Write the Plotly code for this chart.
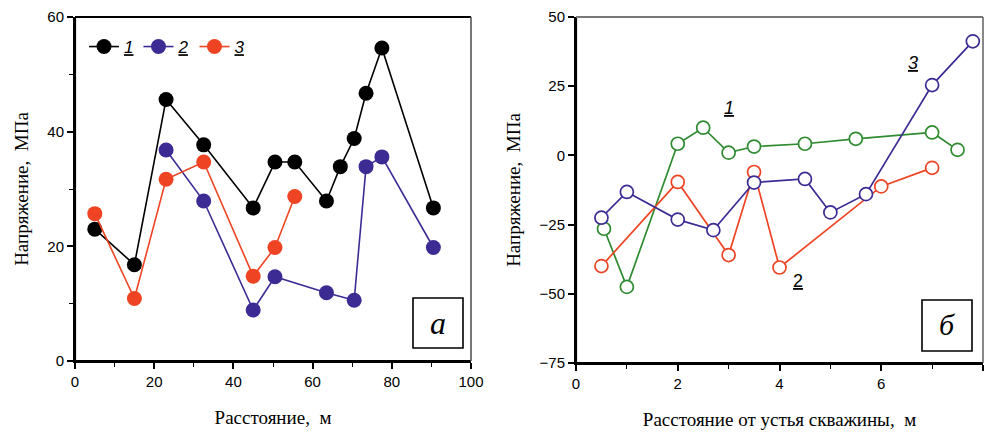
import plotly.graph_objects as go

# ---- left panel (а) ----
a_x1 = [5, 15, 23, 32.5, 45, 50.5, 55.5, 63.5, 67, 70.5, 73.5, 77.5, 90.5]
a_y1 = [23, 16.8, 45.6, 37.7, 26.7, 34.7, 34.7, 27.9, 33.9, 38.8, 46.7, 54.6, 26.7]
a_x2 = [23, 32.5, 45, 50.5, 63.5, 70.5, 73.5, 77.5, 90.5]
a_y2 = [36.8, 27.9, 8.9, 14.7, 11.9, 10.6, 33.9, 35.6, 19.8]
a_x3 = [5, 15, 23, 32.5, 45, 50.5, 55.5]
a_y3 = [25.7, 10.9, 31.7, 34.7, 14.8, 19.8, 28.7]

# ---- right panel (б) ----
b_x1 = [0.55, 1.0, 2.0, 2.5, 3.0, 3.5, 4.5, 5.5, 7.0, 7.5]
b_y1 = [-26.5, -47.5, 4.2, 10.0, 1.0, 3.2, 4.2, 6.0, 8.3, 2.0]
b_x2 = [0.5, 2.0, 3.0, 3.5, 4.0, 6.0, 7.0]
b_y2 = [-40, -9.6, -36, -6.0, -40.5, -11.2, -4.5]
b_x3 = [0.5, 1.0, 2.0, 2.7, 3.5, 4.5, 5.0, 5.7, 7.0, 7.8]
b_y3 = [-22.5, -13.2, -23.2, -27.0, -9.8, -8.5, -20.6, -14.0, 25.4, 41.2]

BLACK = "#000000"
BLUE = "#3d2b94"
RED = "#ee4423"
GREEN = "#2e8b30"

W, H = 985, 435
A_L, A_R, A_T, A_B = 75, 471, 17, 361
B_L, B_R, B_T, B_B = 576, 983, 17, 363

fig = go.Figure()

for xs, ys, col, name in [(a_x1, a_y1, BLACK, "1"), (a_x2, a_y2, BLUE, "2"), (a_x3, a_y3, RED, "3")]:
    fig.add_trace(go.Scatter(
        x=xs, y=ys, mode="lines+markers", name=f"<i><u>{name}</u></i>",
        line=dict(color=col, width=1.6),
        marker=dict(color=col, size=15, symbol="circle"),
        xaxis="x", yaxis="y", showlegend=True, cliponaxis=False))

for xs, ys, col in [(b_x1, b_y1, GREEN), (b_x2, b_y2, RED), (b_x3, b_y3, BLUE)]:
    fig.add_trace(go.Scatter(
        x=xs, y=ys, mode="lines+markers",
        line=dict(color=col, width=1.7),
        marker=dict(color="white", size=13, symbol="circle", line=dict(color=col, width=1.7)),
        xaxis="x2", yaxis="y2", showlegend=False, cliponaxis=False))

tickfont = dict(family="Liberation Sans, Arial", size=15, color="black")
titlefont = dict(family="Liberation Serif, Times New Roman", size=19, color="black")

axis_common = dict(showline=True, linecolor="black", linewidth=2, ticks="outside",
                   ticklen=6, tickwidth=1.5, tickcolor="black", showgrid=False,
                   zeroline=False, tickfont=tickfont, title_font=titlefont,
                   automargin=False)

fig.update_layout(
    width=W, height=H,
    margin=dict(l=0, r=0, t=0, b=0, autoexpand=False),
    paper_bgcolor="white", plot_bgcolor="white",
    xaxis=dict(domain=[A_L/W, A_R/W], range=[0, 100], dtick=20, anchor="y",
               minor=dict(dtick=10, ticks="outside", ticklen=4, tickcolor="black", tickwidth=1.2),
               title=dict(text="Расстояние,  м", standoff=22), **axis_common),
    yaxis=dict(domain=[1-A_B/H, 1-A_T/H], range=[0, 60], dtick=20, anchor="x",
               minor=dict(dtick=10, ticks="outside", ticklen=4, tickcolor="black", tickwidth=1.2),
               title=dict(text="Напряжение,  МПа", standoff=14), **axis_common),
    xaxis2=dict(domain=[B_L/W, B_R/W], range=[0, 8], dtick=2, anchor="y2",
                minor=dict(dtick=1, ticks="outside", ticklen=4, tickcolor="black", tickwidth=1.2),
                title=dict(text="Расстояние от устья скважины,  м", standoff=22), **axis_common),
    yaxis2=dict(domain=[1-B_B/H, 1-B_T/H], range=[-75, 50], dtick=25, anchor="x2",
                title=dict(text="Напряжение,  МПа", standoff=14), **axis_common),
    legend=dict(orientation="h", x=84/W, y=1-29/H, xanchor="left", yanchor="top",
                font=dict(family="Liberation Sans, Arial", size=17, color="black"),
                bgcolor="rgba(0,0,0,0)", itemwidth=30, tracegroupgap=0),
    showlegend=True,
)

def pline(x0, y0, x1, y1, color, width):
    return dict(type="line", xref="paper", yref="paper",
                x0=x0/W, x1=x1/W, y0=1-y0/H, y1=1-y1/H,
                line=dict(color=color, width=width), layer="above")

shapes = [
    # axis lines (left, bottom)
    pline(A_L, A_T, A_L, A_B + 1, "black", 2.2),
    pline(A_L - 1, A_B, A_R, A_B, "black", 2.2),
    pline(B_L, B_T, B_L, B_B + 1, "black", 2.2),
    pline(B_L - 1, B_B, B_R, B_B, "black", 2.2),
    # frame top/right
    pline(A_L, A_T, A_R, A_T, "black", 1.8),
    pline(A_R, A_T, A_R, A_B, "#555555", 1.6),
    pline(B_L, B_T, B_R, B_T, "#777777", 1.8),
    pline(B_R, B_T, B_R, B_B, "#555555", 1.4),
    # label boxes
    dict(type="rect", xref="paper", yref="paper", x0=413/W, x1=463/W, y0=1-348/H, y1=1-298/H,
         line=dict(color="black", width=1.6), fillcolor="white", layer="below"),
    dict(type="rect", xref="paper", yref="paper", x0=922/W, x1=972/W, y0=1-351/H, y1=1-300/H,
         line=dict(color="black", width=1.6), fillcolor="white", layer="below"),
]
fig.update_layout(shapes=shapes)

ann_font = dict(family="Liberation Sans, Arial", size=18, color="black")
fig.add_annotation(xref="paper", yref="paper", x=438/W, y=1-323/H, text="<i>а</i>", showarrow=False,
                   xanchor="center", yanchor="middle",
                   font=dict(family="Liberation Serif, Times New Roman", size=32, color="black"))
fig.add_annotation(xref="paper", yref="paper", x=947/W, y=1-324/H, text="<i>б</i>", showarrow=False,
                   xanchor="center", yanchor="middle",
                   font=dict(family="Liberation Serif, Times New Roman", size=30, color="black"))
fig.add_annotation(xref="x2", yref="y2", x=3.0, y=17, text="<i><u>1</u></i>", showarrow=False, font=ann_font)
fig.add_annotation(xref="x2", yref="y2", x=6.62, y=33.5, text="<i><u>3</u></i>", showarrow=False, font=ann_font)
fig.add_annotation(xref="x2", yref="y2", x=4.36, y=-45.5, text="<u>2</u>", showarrow=False, font=ann_font)

fig.write_html("out.html", config={"displayModeBar": False},
               post_script="document.body.style.margin='0';document.body.style.overflow='hidden';")
